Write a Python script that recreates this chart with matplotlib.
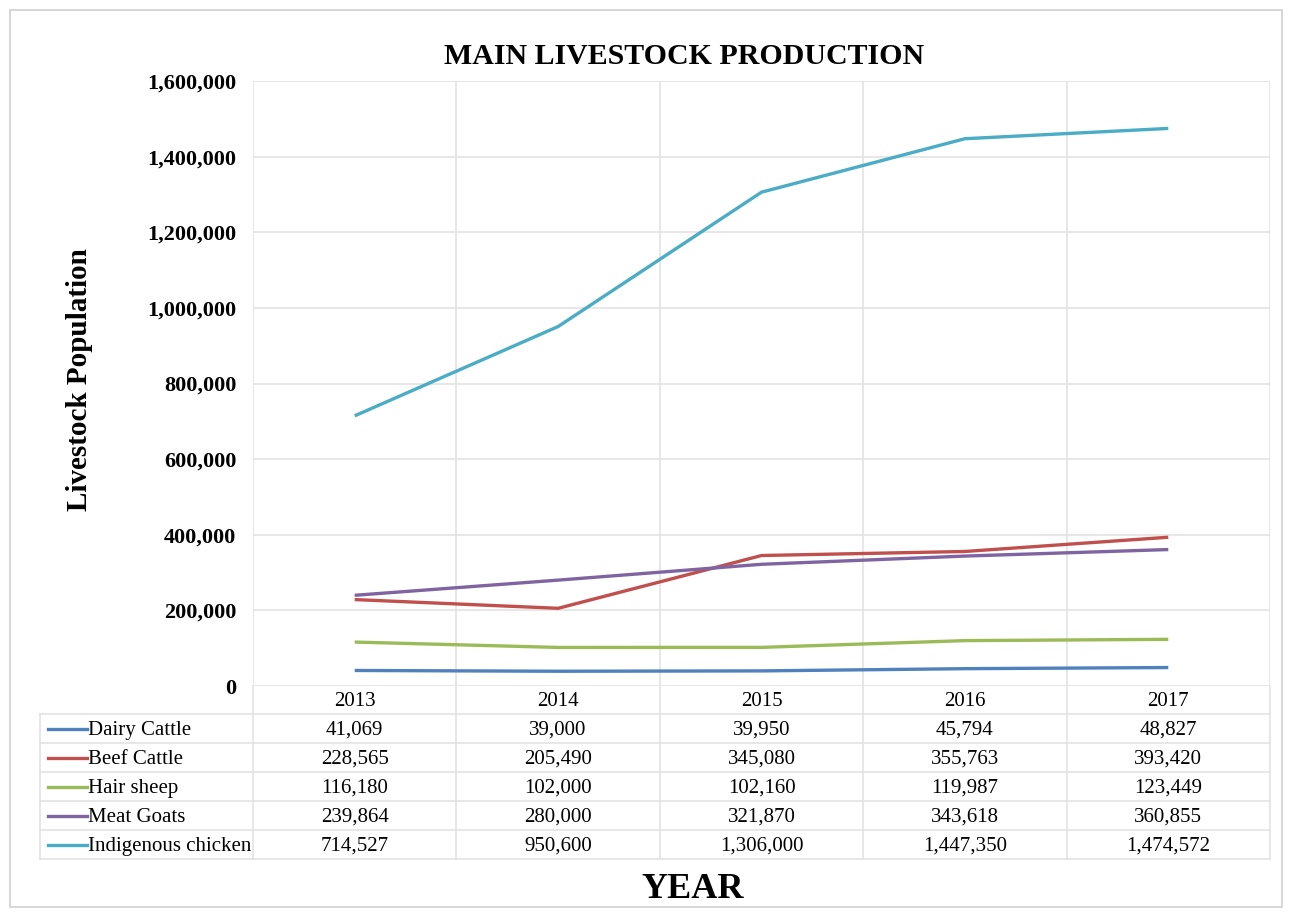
import matplotlib
matplotlib.use("Agg")
import matplotlib.pyplot as plt
from matplotlib.lines import Line2D
from matplotlib.patches import Rectangle

years = ["2013", "2014", "2015", "2016", "2017"]
series_names = ["Dairy Cattle", "Beef Cattle", "Hair sheep", "Meat Goats", "Indigenous chicken"]
dairy_cattle = [41069, 39000, 39950, 45794, 48827]
beef_cattle = [228565, 205490, 345080, 355763, 393420]
hair_sheep = [116180, 102000, 102160, 119987, 123449]
meat_goats = [239864, 280000, 321870, 343618, 360855]
indigenous_chicken = [714527, 950600, 1306000, 1447350, 1474572]
series_values = [dairy_cattle, beef_cattle, hair_sheep, meat_goats, indigenous_chicken]
colors = ["#4F81BD", "#C0504D", "#9BBB59", "#8064A2", "#4BACC6"]
y_ticks = [0, 200000, 400000, 600000, 800000, 1000000, 1200000, 1400000, 1600000]

W, H = 1292, 916
fig = plt.figure(figsize=(W / 100, H / 100), dpi=100)
plt.rcParams['font.family'] = ['Liberation Serif', 'DejaVu Serif']

def fx(px):
    return px / W

def fy(py):
    return 1 - py / H

# outer border
fig.patches.append(Rectangle((fx(10), fy(907)), fx(1272), 897 / H, transform=fig.transFigure,
                             fill=False, edgecolor="#D0D0D0", linewidth=1.2))

left, right, top, bottom = 253, 1270, 81, 686
ax = fig.add_axes([fx(left), fy(bottom), fx(right - left), (bottom - top) / H])
n = len(years)
xs = list(range(n))
for vals, c in zip(series_values, colors):
    ax.plot(xs, vals, color=c, linewidth=2.4, solid_capstyle="butt")
ax.set_xlim(-0.5, n - 0.5)
ax.set_ylim(0, 1600000)
ax.set_yticks(y_ticks)
ax.set_yticklabels([f"{v:,}" for v in y_ticks], fontsize=16, fontweight="bold")
ax.set_xticks([])
ax.tick_params(axis="y", length=0, pad=12)
for s in ax.spines.values():
    s.set_visible(False)
for v in y_ticks:
    ax.axhline(v, color="#E3E3E3", linewidth=1.2, zorder=0)
for i in range(n + 1):
    ax.axvline(i - 0.5, color="#E3E3E3", linewidth=1.2, zorder=0)

# title and labels
fig.text(fx(684), fy(56), "MAIN LIVESTOCK PRODUCTION", ha="center", va="center",
         fontsize=21.5, fontweight="bold")
fig.text(fx(80), fy(380), "Livestock Population", ha="center", va="center",
         rotation=90, fontsize=21, fontweight="bold")
fig.text(fx(693), fy(890), "YEAR", ha="center", va="center", fontsize=26, fontweight="bold")

# data table
row_edges = [686, 714, 743, 772, 801, 830, 859]
col_w = (right - left) / n
grid_c = "#E3E3E3"
for yb in row_edges[1:]:
    fig.add_artist(Line2D([fx(40), fx(right)], [fy(yb), fy(yb)], color=grid_c, linewidth=1.2))
for i in range(n + 1):
    xb = left + i * col_w
    fig.add_artist(Line2D([fx(xb), fx(xb)], [fy(bottom), fy(row_edges[-1])], color=grid_c, linewidth=1.2))
fig.add_artist(Line2D([fx(40), fx(40)], [fy(row_edges[1]), fy(row_edges[-1])], color=grid_c, linewidth=1.2))

for i, yr in enumerate(years):
    cx = left + (i + 0.5) * col_w
    fig.text(fx(cx), fy((row_edges[0] + row_edges[1]) / 2 + 2), yr, ha="center", va="center", fontsize=15)

for r, (name, vals, c) in enumerate(zip(series_names, series_values, colors)):
    cy = (row_edges[r + 1] + row_edges[r + 2]) / 2
    fig.add_artist(Line2D([fx(48), fx(87)], [fy(cy), fy(cy)], color=c, linewidth=2.4))
    fig.text(fx(88), fy(cy + 2), name, ha="left", va="center", fontsize=15)
    for i, v in enumerate(vals):
        cx = left + (i + 0.5) * col_w
        fig.text(fx(cx), fy(cy + 2), f"{v:,}", ha="center", va="center", fontsize=15)

fig.savefig("out.png", dpi=100, facecolor="white")
